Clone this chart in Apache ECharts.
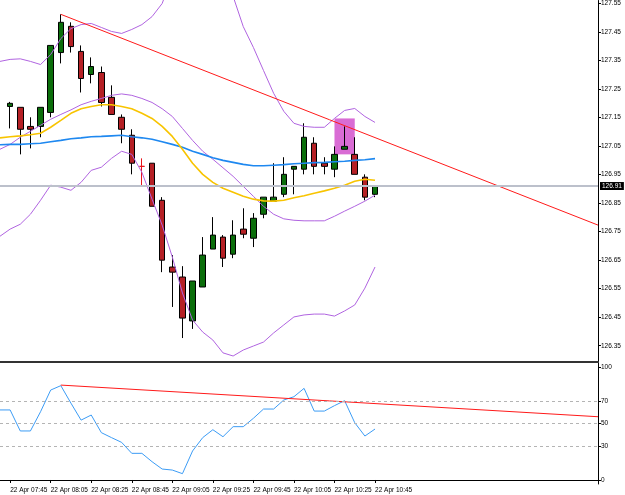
<!DOCTYPE html>
<html>
<head>
<meta charset="utf-8">
<script src="https://cdn.jsdelivr.net/npm/echarts@6/dist/echarts.min.js"></script>
<style>
html, body { margin: 0; padding: 0; background: #fff; }
#chart { width: 625px; height: 495px; }
</style>
</head>
<body>
<div id="chart"></div>
<script>
// 5 min bars, 22 Apr. first slot (07:40) sits just off the left edge
var barTimes = ['07:40','07:45','07:50','07:55','08:00','08:05','08:10','08:15','08:20','08:25','08:30','08:35','08:40','08:45','08:50','08:55',
  '09:00','09:05','09:10','09:15','09:20','09:25','09:30','09:35','09:40','09:45','09:50','09:55',
  '10:00','10:05','10:10','10:15','10:20','10:25','10:30','10:35','10:40','10:45'];
var futureSlots = 22;

// candles 07:45 .. 10:45
var candleOpen  = [127.189,127.186,127.119,127.119,127.168,127.378,127.470,127.382,127.301,127.308,127.221,127.151,127.088,126.979,126.990,126.860,126.626,126.591,126.437,126.556,126.689,126.731,126.671,126.759,126.727,126.811,126.857,126.881,126.969,126.969,127.060,126.990,126.969,127.039,127.021,126.941,126.881];
var candleClose = [127.200,127.109,127.109,127.186,127.403,127.484,127.399,127.287,127.329,127.203,127.161,127.109,126.990,126.979,126.839,126.650,126.608,126.447,126.577,126.668,126.738,126.657,126.738,126.741,126.797,126.871,126.871,126.951,126.979,127.081,126.979,126.979,127.021,127.049,126.951,126.871,126.909];
var candleLow   = [127.112,127.021,127.042,127.081,127.151,127.340,127.378,127.238,127.270,127.189,127.161,127.060,126.951,126.909,126.839,126.608,126.486,126.377,126.409,126.556,126.689,126.626,126.657,126.727,126.696,126.797,126.857,126.871,126.881,126.951,126.951,126.951,126.941,127.039,126.951,126.860,126.871];
var candleHigh  = [127.205,127.186,127.151,127.186,127.403,127.512,127.484,127.403,127.361,127.329,127.263,127.161,127.109,127.007,126.990,126.871,126.668,126.629,126.577,126.731,126.801,126.738,126.790,126.832,126.815,126.871,126.990,127.011,126.979,127.130,127.081,127.011,127.049,127.119,127.081,126.951,126.912];
var dojiBar = '08:50';

// indicators, 07:40 .. 10:45
var maBlue   = [127.055,127.056,127.056,127.058,127.060,127.065,127.070,127.076,127.079,127.083,127.084,127.086,127.088,127.083,127.079,127.074,127.065,127.056,127.046,127.032,127.021,127.009,127.000,126.993,126.986,126.981,126.981,126.983,126.985,126.988,126.990,126.992,126.993,126.995,126.997,127.000,127.002,127.006];
var maOrange = [127.079,127.083,127.086,127.090,127.095,127.116,127.140,127.165,127.181,127.189,127.195,127.195,127.189,127.181,127.165,127.147,127.119,127.084,127.039,126.990,126.951,126.923,126.902,126.888,126.874,126.864,126.858,126.857,126.860,126.869,126.876,126.885,126.893,126.902,126.913,126.927,126.934,126.930];
var bbUpper  = [127.347,127.354,127.356,127.347,127.336,127.371,127.427,127.462,127.476,127.480,127.466,127.452,127.445,127.459,127.476,127.504,127.550,127.648,127.690,127.701,127.666,127.638,127.617,127.575,127.469,127.396,127.315,127.235,127.172,127.130,127.119,127.116,127.116,127.147,127.175,127.182,127.154,127.133];
var bbMiddle = [127.039,127.056,127.081,127.102,127.123,127.144,127.161,127.177,127.195,127.207,127.217,127.228,127.233,127.228,127.217,127.203,127.181,127.154,127.112,127.070,127.032,127.004,126.974,126.944,126.909,126.874,126.839,126.811,126.795,126.790,126.788,126.788,126.788,126.804,126.822,126.839,126.857,126.878];
var bbLower  = [126.734,126.759,126.776,126.811,126.860,126.913,126.906,126.895,126.923,126.965,126.976,127.007,127.032,127.021,126.958,126.864,126.773,126.661,126.535,126.440,126.398,126.370,126.325,126.314,126.335,126.349,126.363,126.395,126.423,126.451,126.458,126.461,126.461,126.454,126.472,126.493,126.552,126.626];

var rsiValues = [62,62,43.4,43.4,60.4,79.6,83.5,68,53,57.5,41.9,37.5,33.3,23.6,23.6,16.2,9.7,8.8,5.6,25.7,37.5,44.5,38.3,47.2,47.2,54.6,62.8,62.8,70.8,73.7,81.1,61,61,65.8,70.2,50.7,38.9,45.1];
var rsiLevels = [70, 50, 30];

// trendlines: [slot, value] at both ends
var priceTrend = [[6, 127.512], [59, 126.773]];
var rsiTrend = [[6, 84], [59, 56]];

// marked box: slots and prices
var boxSlots = [33, 35];
var boxPrices = [127.147, 127.021];
var lastPrice = 126.91;

var priceTicks = [126.35,126.45,126.55,126.65,126.75,126.85,126.95,127.05,127.15,127.25,127.35,127.45,127.55];
var rsiTicks = [0, 30, 50, 70, 100];

var categories = barTimes.slice();
for (var i = 0; i < futureSlots; i++) categories.push('');

var candleData = [['-','-','-','-']];
for (var j = 0; j < candleOpen.length; j++) {
  var item = { value: [candleOpen[j], candleClose[j], candleLow[j], candleHigh[j]] };
  if (barTimes[j + 1] === dojiBar) item.itemStyle = { borderColor: '#e8141c', borderColor0: '#e8141c' };
  candleData.push(item);
}

function labelSlot(idx, val) {
  return val !== '' && (idx - 1) % 4 === 0;
}

var font = 'Liberation Sans';
var chart = echarts.init(document.getElementById('chart'));
chart.setOption({
  animation: false,
  backgroundColor: '#fff',
  grid: [
    { left: -4.207, right: 27, top: 0, height: 362 },
    { left: -4.207, right: 27, top: 363, height: 121 }
  ],
  xAxis: [
    {
      type: 'category', gridIndex: 0, data: categories, boundaryGap: false,
      axisLine: { show: true, lineStyle: { color: '#333', width: 2 } },
      axisTick: { show: false }, axisLabel: { show: false }, splitLine: { show: false }
    },
    {
      type: 'category', gridIndex: 1, data: categories, boundaryGap: false,
      axisLine: { show: true, lineStyle: { color: '#000', width: 1 } },
      axisTick: { show: true, interval: labelSlot, length: 3, lineStyle: { color: '#000' } },
      axisLabel: {
        interval: labelSlot, align: 'left', margin: 3, fontSize: 6.5, fontFamily: font, color: '#000',
        formatter: function (v) { return v ? '22 Apr ' + v : ''; }
      },
      splitLine: { show: false }
    }
  ],
  yAxis: [
    {
      type: 'value', gridIndex: 0, position: 'right', min: 126.293, max: 127.5605,
      axisLine: { show: true, lineStyle: { color: '#000', width: 1 } },
      axisTick: { show: true, length: 3, customValues: priceTicks, lineStyle: { color: '#000' } },
      axisLabel: {
        customValues: priceTicks, margin: 3, fontSize: 6.5, fontFamily: font, color: '#000',
        formatter: function (v) { return v.toFixed(2); }
      },
      splitLine: { show: false }
    },
    {
      type: 'value', gridIndex: 1, position: 'right', min: -3.54, max: 103.54,
      axisLine: { show: true, lineStyle: { color: '#000', width: 1 } },
      axisTick: { show: true, length: 3, customValues: rsiTicks, lineStyle: { color: '#000' } },
      axisLabel: { customValues: rsiTicks, margin: 3, fontSize: 6.5, fontFamily: font, color: '#000' },
      splitLine: { show: false }
    }
  ],
  series: [
    {
      type: 'candlestick', xAxisIndex: 0, yAxisIndex: 0, data: candleData, barWidth: 6,
      itemStyle: { color: '#0b6e0b', color0: '#b52025', borderColor: '#000', borderColor0: '#000', borderWidth: 1 },
      markArea: {
        silent: true,
        itemStyle: { color: '#d96cd4' },
        data: [[{ coord: [boxSlots[0], boxPrices[0]] }, { coord: [boxSlots[1], boxPrices[1]] }]]
      },
      markLine: {
        silent: true, symbol: 'none',
        lineStyle: { color: '#bcc0cb', width: 2, type: 'solid' },
        label: {
          position: 'end', distance: 2, formatter: lastPrice.toFixed(2),
          backgroundColor: '#000', color: '#fff', padding: [1, 2, 0, 2], fontSize: 6.5, fontFamily: font
        },
        data: [{ yAxis: lastPrice }]
      }
    },
    { type: 'line', xAxisIndex: 0, yAxisIndex: 0, data: bbUpper, showSymbol: false, lineStyle: { color: '#b064e0', width: 1 } },
    { type: 'line', xAxisIndex: 0, yAxisIndex: 0, data: bbMiddle, showSymbol: false, lineStyle: { color: '#b064e0', width: 1 } },
    { type: 'line', xAxisIndex: 0, yAxisIndex: 0, data: bbLower, showSymbol: false, lineStyle: { color: '#b064e0', width: 1 } },
    { type: 'line', xAxisIndex: 0, yAxisIndex: 0, data: maBlue, showSymbol: false, lineStyle: { color: '#1e88f0', width: 1.6 } },
    { type: 'line', xAxisIndex: 0, yAxisIndex: 0, data: maOrange, showSymbol: false, lineStyle: { color: '#f8c400', width: 1.6 } },
    { type: 'line', xAxisIndex: 0, yAxisIndex: 0, data: priceTrend, showSymbol: false, lineStyle: { color: '#ff1a1a', width: 1 } },
    {
      type: 'line', xAxisIndex: 1, yAxisIndex: 1, data: rsiValues, showSymbol: false,
      lineStyle: { color: '#3c9cf5', width: 1 },
      markLine: {
        silent: true, symbol: 'none', label: { show: false },
        lineStyle: { color: '#b4b4b4', width: 1, type: [3, 3] },
        data: rsiLevels.map(function (v) { return { yAxis: v }; })
      }
    },
    { type: 'line', xAxisIndex: 1, yAxisIndex: 1, data: rsiTrend, showSymbol: false, lineStyle: { color: '#ff1a1a', width: 1 } }
  ]
});
</script>
</body>
</html>
